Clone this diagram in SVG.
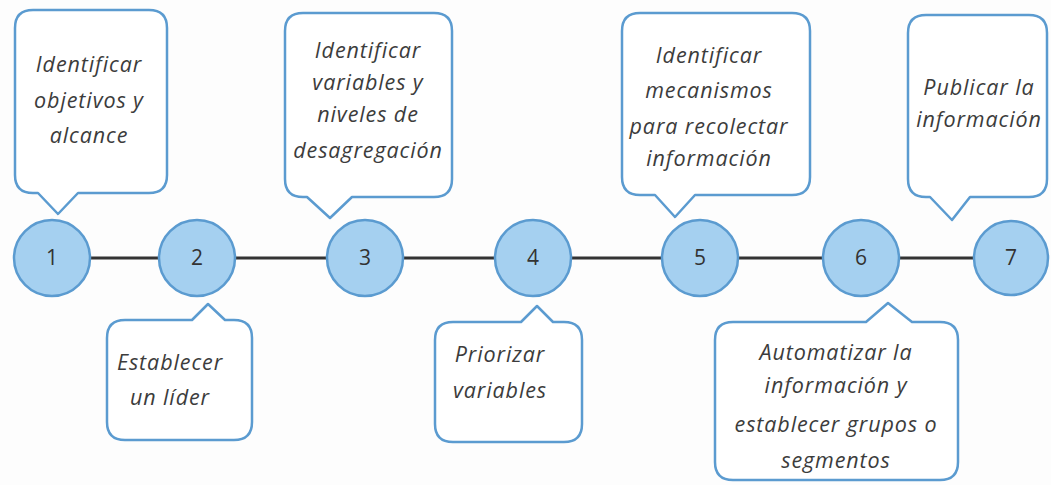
<svg xmlns="http://www.w3.org/2000/svg" width="1051" height="485" viewBox="0 0 1051 485">
<style>
.bg{fill:#fdfdfd}
.call{fill:#ffffff;stroke:#5b9bd0;stroke-width:2.5;stroke-linejoin:round}
.node{fill:#a5d0f0;stroke:#5b9bd0;stroke-width:2.5}
.lbl{font-family:"Open Sans","Liberation Sans",sans-serif;font-style:italic;font-size:21.5px;fill:#3c3c3c;text-anchor:middle;letter-spacing:0.9px}
.num{font-family:"Open Sans","Liberation Sans",sans-serif;font-size:21px;fill:#333;text-anchor:middle}
.conn{stroke:#333;stroke-width:3}
</style>
<rect class="bg" x="0" y="0" width="1051" height="485"/>
<g id="connectors">
<line class="conn" x1="90" y1="258" x2="159" y2="258"/>
<line class="conn" x1="235" y1="258" x2="327" y2="258"/>
<line class="conn" x1="403" y1="258" x2="495" y2="258"/>
<line class="conn" x1="571" y1="258" x2="662" y2="258"/>
<line class="conn" x1="738" y1="258" x2="823" y2="258"/>
<line class="conn" x1="899" y1="258" x2="974" y2="258"/>
</g>
<g id="callout1">
<path class="call" d="M33,10 H149 Q167,10 167,28 V175 Q167,193 149,193 H78 L58,214 L38,193 H33 Q15,193 15,175 V28 Q15,10 33,10 Z"/>
<text class="lbl" x="89" y="72">Identificar</text>
<text class="lbl" x="89" y="108">objetivos y</text>
<text class="lbl" x="89" y="143">alcance</text>
</g>
<g id="callout3">
<path class="call" d="M303,13 H434 Q452,13 452,31 V179 Q452,197 434,197 H352 L330,218 L307,197 H303 Q285,197 285,179 V31 Q285,13 303,13 Z"/>
<text class="lbl" x="368" y="58">Identificar</text>
<text class="lbl" x="368" y="90">variables y</text>
<text class="lbl" x="368" y="122">niveles de</text>
<text class="lbl" x="368" y="158">desagregación</text>
</g>
<g id="callout5">
<path class="call" d="M640,13 H792 Q810,13 810,31 V177 Q810,195 792,195 H695 L675,217 L655,195 H640 Q622,195 622,177 V31 Q622,13 640,13 Z"/>
<text class="lbl" x="709" y="63">Identificar</text>
<text class="lbl" x="709" y="98">mecanismos</text>
<text class="lbl" x="709" y="134">para recolectar</text>
<text class="lbl" x="709" y="166">información</text>
</g>
<g id="callout7">
<path class="call" d="M926,15 H1029 Q1047,15 1047,33 V179 Q1047,197 1029,197 H970 L952,220 L930,197 H926 Q908,197 908,179 V33 Q908,15 926,15 Z"/>
<text class="lbl" x="979" y="95">Publicar la</text>
<text class="lbl" x="979" y="127">información</text>
</g>
<g id="callout2">
<path class="call" d="M125,320 H192 L208,304 L225,320 H234 Q252,320 252,338 V422 Q252,440 234,440 H125 Q107,440 107,422 V338 Q107,320 125,320 Z"/>
<text class="lbl" x="170" y="370">Establecer</text>
<text class="lbl" x="170" y="405">un líder</text>
</g>
<g id="callout4">
<path class="call" d="M453,322 H521 L537,306 L553,322 H564 Q582,322 582,340 V424 Q582,442 564,442 H453 Q435,442 435,424 V340 Q435,322 453,322 Z"/>
<text class="lbl" x="500" y="362">Priorizar</text>
<text class="lbl" x="500" y="398">variables</text>
</g>
<g id="callout6">
<path class="call" d="M733,322 H866 L888,303 L912,322 H940 Q958,322 958,340 V462 Q958,480 940,480 H733 Q715,480 715,462 V340 Q715,322 733,322 Z"/>
<text class="lbl" x="836" y="360">Automatizar la</text>
<text class="lbl" x="836" y="393">información y</text>
<text class="lbl" x="836" y="432">establecer grupos o</text>
<text class="lbl" x="836" y="468">segmentos</text>
</g>
<g id="node1"><circle class="node" cx="52" cy="258" r="38"/><text class="num" x="52" y="265">1</text></g>
<g id="node2"><circle class="node" cx="197" cy="258" r="38"/><text class="num" x="197" y="265">2</text></g>
<g id="node3"><circle class="node" cx="365" cy="258" r="38"/><text class="num" x="365" y="265">3</text></g>
<g id="node4"><circle class="node" cx="533" cy="258" r="38"/><text class="num" x="533" y="265">4</text></g>
<g id="node5"><circle class="node" cx="700" cy="258" r="38"/><text class="num" x="700" y="265">5</text></g>
<g id="node6"><circle class="node" cx="861" cy="258" r="38"/><text class="num" x="861" y="265">6</text></g>
<g id="node7"><circle class="node" cx="1011" cy="258" r="37"/><text class="num" x="1011" y="265">7</text></g>
</svg>
